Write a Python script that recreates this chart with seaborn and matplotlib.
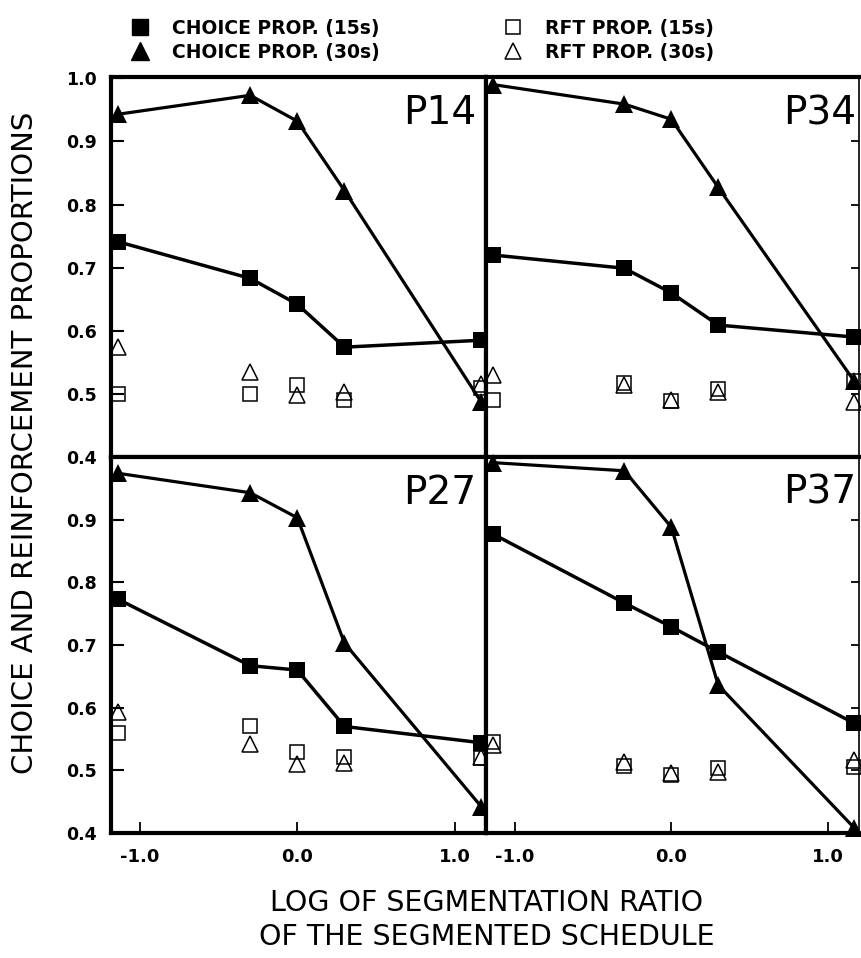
import matplotlib
matplotlib.use("Agg")
import matplotlib.pyplot as plt
from matplotlib.lines import Line2D
import seaborn as sns
import pandas as pd

# ---------------- data ----------------
log_ratio = [-1.14, -0.30, 0.0, 0.30, 1.17]

p14_choice15 = [0.741, 0.683, 0.642, 0.574, 0.585]
p14_choice30 = [0.943, 0.973, 0.932, 0.822, 0.487]
p14_rft15 = [0.500, 0.500, 0.514, 0.490, 0.510]
p14_rft30 = [0.574, 0.535, 0.498, 0.503, 0.515]

p34_choice15 = [0.720, 0.699, 0.660, 0.609, 0.590]
p34_choice30 = [0.990, 0.959, 0.935, 0.827, 0.520]
p34_rft15 = [0.490, 0.517, 0.488, 0.508, 0.520]
p34_rft30 = [0.530, 0.514, 0.490, 0.503, 0.487]

p27_choice15 = [0.773, 0.667, 0.660, 0.570, 0.544]
p27_choice30 = [0.974, 0.943, 0.903, 0.703, 0.442]
p27_rft15 = [0.560, 0.570, 0.530, 0.522, 0.520]
p27_rft30 = [0.593, 0.542, 0.510, 0.512, 0.522]

p37_choice15 = [0.877, 0.767, 0.729, 0.689, 0.575]
p37_choice30 = [0.991, 0.978, 0.888, 0.636, 0.408]
p37_rft15 = [0.546, 0.507, 0.493, 0.504, 0.506]
p37_rft30 = [0.540, 0.514, 0.496, 0.498, 0.516]

panel_names = ["P14", "P34", "P27", "P37"]
y_ticks = [0.4, 0.5, 0.6, 0.7, 0.8, 0.9, 1.0]
x_ticks = [-1.0, 0.0, 1.0]
x_tick_labels = ["-1.0", "0.0", "1.0"]
legend_labels = ["CHOICE PROP. (15s)", "CHOICE PROP. (30s)",
                 "RFT PROP. (15s)", "RFT PROP. (30s)"]
x_label = "LOG OF SEGMENTATION RATIO\nOF THE SEGMENTED SCHEDULE"
y_label = "CHOICE AND REINFORCEMENT PROPORTIONS"

series = {
    "P14": (p14_choice15, p14_choice30, p14_rft15, p14_rft30),
    "P34": (p34_choice15, p34_choice30, p34_rft15, p34_rft30),
    "P27": (p27_choice15, p27_choice30, p27_rft15, p27_rft30),
    "P37": (p37_choice15, p37_choice30, p37_rft15, p37_rft30),
}

# ---------------- style ----------------
sns.set_theme(style="white")
plt.rcParams["font.family"] = ["DejaVu Sans"]
for key in ("text.color", "axes.labelcolor", "xtick.color", "ytick.color",
            "axes.edgecolor"):
    plt.rcParams[key] = "black"

W, H = 862, 958
fig = plt.figure(figsize=(W / 100, H / 100), dpi=100)

positions = {
    "P14": [111 / W, 1 - 457 / H, 375 / W, 380 / H],
    "P34": [486 / W, 1 - 457 / H, 373 / W, 380 / H],
    "P27": [111 / W, 1 - 833 / H, 375 / W, 376 / H],
    "P37": [486 / W, 1 - 833 / H, 373 / W, 376 / H],
}
ytop = {"P14": 1.002, "P34": 1.002, "P27": 1.0, "P37": 1.0}

filled = dict(color="black", markeredgecolor="black", markeredgewidth=0,
              estimator=None, sort=False, clip_on=False)
opened = dict(color="black", markerfacecolor="none", markeredgecolor="black",
              markeredgewidth=1.1, linestyle="none", estimator=None,
              sort=False, clip_on=False)

for name in panel_names:
    c15, c30, r15, r30 = series[name]
    df = pd.DataFrame({"log_ratio": log_ratio, "c15": c15, "c30": c30,
                       "r15": r15, "r30": r30})
    ax = fig.add_axes(positions[name])
    sns.lineplot(data=df, x="log_ratio", y="c15", ax=ax, marker="s",
                 markersize=12, linewidth=2.5, **filled)
    sns.lineplot(data=df, x="log_ratio", y="c30", ax=ax, marker="^",
                 markersize=13, linewidth=2.3, **filled)
    sns.lineplot(data=df, x="log_ratio", y="r15", ax=ax, marker="s",
                 markersize=10.5, **opened)
    sns.lineplot(data=df, x="log_ratio", y="r30", ax=ax, marker="^",
                 markersize=11, **opened)

    ax.set_xlim(-1.185, 1.2)
    ax.set_ylim(0.4, ytop[name])
    ax.set_xlabel("")
    ax.set_ylabel("")
    ax.set_facecolor("white")
    for sp in ax.spines.values():
        sp.set_linewidth(3.0)
        sp.set_color("black")

    is_left = name in ("P14", "P27")
    is_bottom = name in ("P27", "P37")
    if not is_left:
        ax.spines["right"].set_linewidth(1.2)

    ax.set_yticks(y_ticks)
    if is_left:
        if name == "P14":
            ax.set_yticklabels([f"{v:.1f}" for v in y_ticks])
        else:
            ax.set_yticklabels([f"{v:.1f}" for v in y_ticks[:-1]] + [""])
        ax.tick_params(axis="y", which="both", left=True, right=False,
                       labelleft=True, direction="in", length=9.5, width=1.5,
                       pad=10, labelsize=12.5, color="black",
                       labelcolor="black")
    else:
        ax.tick_params(axis="y", which="both", left=False, right=True,
                       labelleft=False, direction="in", length=6, width=1.3,
                       color="black")

    ax.set_xticks(x_ticks)
    if is_bottom:
        ax.set_xticklabels(x_tick_labels)
        ax.tick_params(axis="x", bottom=True, labelbottom=True,
                       direction="in", length=8, width=1.3, pad=11,
                       labelsize=13, color="black", labelcolor="black")
    else:
        ax.tick_params(axis="x", bottom=False, labelbottom=False)
    for lab in ax.get_xticklabels() + ax.get_yticklabels():
        lab.set_fontweight("bold")

    lx = 0.973 if is_left else 0.992
    ax.text(lx, 0.875, name, transform=ax.transAxes, ha="right",
            va="baseline", fontsize=28, color="black")

# legend (proxy handles styled like the plotted marks)
handles = [
    Line2D([], [], linestyle="none", marker="s", markersize=12, color="black"),
    Line2D([], [], linestyle="none", marker="^", markersize=13, color="black"),
    Line2D([], [], linestyle="none", marker="s", markersize=10.5,
           markerfacecolor="none", markeredgecolor="black", markeredgewidth=1.1),
    Line2D([], [], linestyle="none", marker="^", markersize=11,
           markerfacecolor="none", markeredgecolor="black", markeredgewidth=1.1),
]
fig.legend(handles, legend_labels, ncol=2, loc="upper left",
           bbox_to_anchor=(131 / W, 1 - 19 / H), frameon=False,
           prop={"weight": "bold", "size": 13.5}, handlelength=1.0,
           handletextpad=1.2, columnspacing=6.6, labelspacing=0.25,
           borderpad=0.0, borderaxespad=0.0, labelcolor="black")

fig.text(487 / W, 1 - 920 / H, x_label, ha="center", va="center",
         fontsize=20.5, linespacing=1.3, color="black")
fig.text(25 / W, 1 - 443 / H, y_label, ha="center", va="center",
         rotation=90, fontsize=21, color="black")

fig.savefig("out.png", dpi=100, facecolor="white")
